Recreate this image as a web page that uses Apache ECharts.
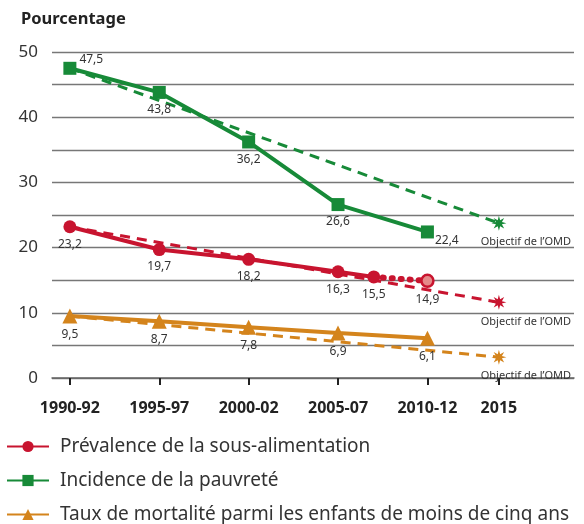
<!DOCTYPE html>
<html>
<head>
<meta charset="utf-8">
<script src="https://cdn.jsdelivr.net/npm/echarts@6/dist/echarts.min.js"></script>
<style>
  html, body { margin: 0; padding: 0; background: #fff; }
  #chart { width: 584px; height: 524px; }
</style>
</head>
<body>
<div id="chart"></div>
<script>
// periods (middle year of each 3-year window) and their labels
const periodYears = [1991, 1996, 2001, 2006, 2011, 2015];
const periodLabels = ["1990-92", "1995-97", "2000-02", "2005-07", "2010-12", "2015"];

// Prévalence de la sous-alimentation
const hungerYears = [1991, 1996, 2001, 2006, 2008];
const hungerValues = [23.2, 19.7, 18.2, 16.3, 15.5];
const hungerProjYears = [2008, 2011];
const hungerProjValues = [15.5, 14.9];
const hungerTarget = [23.2, 11.6];

// Incidence de la pauvreté
const povertyYears = [1991, 1996, 2001, 2006, 2011];
const povertyValues = [47.5, 43.8, 36.2, 26.6, 22.4];
const povertyTarget = [47.5, 23.75];

// Taux de mortalité des enfants de moins de cinq ans
const mortalityYears = [1991, 1996, 2001, 2006, 2011];
const mortalityValues = [9.5, 8.7, 7.8, 6.9, 6.1];
const mortalityTarget = [9.5, 3.2];

const targetYears = [1991, 2015];

const RED = "#c8142f";
const GREEN = "#178a38";
const ORANGE = "#d4841c";
const FONT = "Noto Sans";

const starPath = "path://M50,0 L58,30 L85,15 L70,42 L100,50 L70,58 L85,85 L58,70 L50,100 L42,70 L15,85 L30,58 L0,50 L30,42 L15,15 L42,30 Z";

let fmt = (v) => String(v).replace(".", ",");
let pairs = (xs, ys) => xs.map((x, i) => [x, ys[i]]);

let valueLabel = {
  show: true,
  position: "bottom",
  distance: 5,
  fontFamily: FONT,
  fontSize: 12,
  color: "#333",
  formatter: (p) => fmt(p.value[1]),
};

let targetSeries = (name, values, color) => ({
  name: name,
  type: "line",
  data: pairs(targetYears, values),
  symbol: starPath,
  symbolSize: (v, p) => (p.dataIndex === 1 ? 15 : 0),
  showSymbol: true,
  itemStyle: { color: color },
  lineStyle: { color: color, width: 3, type: [10, 7] },
  label: {
    show: true,
    position: "bottom",
    offset: [27, 1],
    fontFamily: FONT,
    fontSize: 11,
    color: "#333",
    formatter: (p) => (p.dataIndex === 1 ? "Objectif de l\u2019OMD" : ""),
  },
  z: 2,
  silent: true,
});

let povertyData = pairs(povertyYears, povertyValues).map((d, i) => {
  if (i === 0) return { value: d, label: { position: "right", offset: [-2, -9] } };
  if (i === 4) return { value: d, label: { position: "right", offset: [-4, 9] } };
  return d;
});

let myChart = echarts.init(document.getElementById("chart"));
myChart.setOption({
  animation: false,
  title: {
    text: "Pourcentage",
    left: 21,
    top: 11,
    padding: 0,
    textStyle: { fontFamily: FONT, fontSize: 16.5, fontWeight: "bold", color: "#222" },
  },
  legend: {
    data: ["Prévalence de la sous-alimentation", "Incidence de la pauvreté", "Taux de mortalité parmi les enfants de moins de cinq ans"],
    orient: "vertical",
    left: 6,
    top: 437,
    padding: 0,
    itemWidth: 42,
    itemHeight: 14,
    itemGap: 15,
    textStyle: { fontFamily: FONT, fontSize: 19, color: "#333", padding: [0, 0, 0, 6] },
  },
  grid: {
    left: 52,
    right: 10,
    top: 52,
    bottom: 146,
  },
  xAxis: {
    type: "value",
    min: 1990,
    max: 2019.2,
    axisLine: { show: true, lineStyle: { color: "#666", width: 1.5 } },
    axisTick: {
      show: true,
      customValues: periodYears,
      length: 7,
      lineStyle: { color: "#222", width: 2 },
    },
    axisLabel: {
      customValues: periodYears,
      margin: 22,
      fontFamily: FONT,
      fontSize: 16,
      fontWeight: "bold",
      color: "#222",
      formatter: (v) => periodLabels[periodYears.indexOf(v)],
    },
    splitLine: { show: false },
  },
  yAxis: {
    type: "value",
    min: 0,
    max: 50,
    interval: 5,
    axisLine: { show: false },
    axisTick: { show: false },
    axisLabel: {
      margin: 14,
      fontFamily: FONT,
      fontSize: 17,
      color: "#333",
      formatter: (v) => (v % 10 === 0 ? v : ""),
    },
    splitLine: { lineStyle: { color: "#777", width: 1.3 } },
  },
  series: [
    targetSeries("target-poverty", povertyTarget, GREEN),
    targetSeries("target-hunger", hungerTarget, RED),
    targetSeries("target-mortality", mortalityTarget, ORANGE),
    {
      name: "hunger-proj",
      type: "line",
      data: pairs(hungerProjYears, hungerProjValues),
      symbol: "circle",
      symbolSize: (v, p) => (p.dataIndex === 1 ? 12 : 0),
      itemStyle: { color: "#e58a8a", borderColor: RED, borderWidth: 2.5 },
      lineStyle: { color: RED, width: 6, type: [1, 8], cap: "round" },
      label: Object.assign({}, valueLabel, {
        formatter: (p) => (p.dataIndex === 1 ? fmt(p.value[1]) : ""),
      }),
      z: 3,
    },
    {
      name: "Prévalence de la sous-alimentation",
      type: "line",
      data: pairs(hungerYears, hungerValues),
      symbol: "circle",
      symbolSize: 13,
      itemStyle: { color: RED },
      lineStyle: { color: RED, width: 4 },
      label: valueLabel,
      z: 4,
    },
    {
      name: "Incidence de la pauvreté",
      type: "line",
      data: povertyData,
      symbol: "rect",
      symbolSize: 13,
      itemStyle: { color: GREEN },
      lineStyle: { color: GREEN, width: 4 },
      label: valueLabel,
      z: 4,
    },
    {
      name: "Taux de mortalité parmi les enfants de moins de cinq ans",
      type: "line",
      data: pairs(mortalityYears, mortalityValues),
      symbol: "triangle",
      symbolSize: 15,
      itemStyle: { color: ORANGE },
      lineStyle: { color: ORANGE, width: 4 },
      label: valueLabel,
      z: 4,
    },
  ],
});
window.addEventListener("resize", function () {
  myChart.resize();
});
</script>
</body>
</html>
